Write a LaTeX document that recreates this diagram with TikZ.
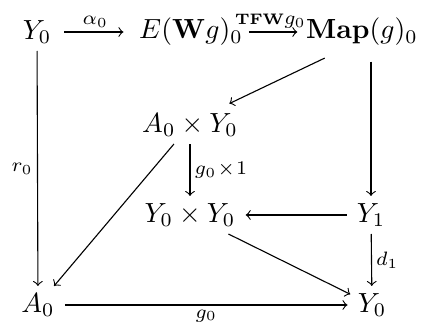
\documentclass[tikz,border=0pt]{standalone}
\usepackage{amsmath, amssymb}
\usepackage{tikz}

\begin{document}
\begin{tikzpicture}[x=0.0127cm, y=-0.0127cm, >=to, every node/.style={inner sep=2.5pt}, lbl/.style={font=\scriptsize, inner sep=1.5pt}]
  \useasboundingbox (0,0) rectangle (423,324);
  % objects
  \node (ytop) at (37,32) {$Y_0$};
  \node (ewg) at (191,32) {$E(\mathbf{W}g)_0$};
  \node (map) at (362,32) {$\mathbf{Map}(g)_0$};
  \node (axy) at (190,125) {$A_0 \times Y_0$};
  \node (yxy) at (190,215) {$Y_0 \times Y_0$};
  \node (yone) at (371,215) {$Y_1$};
  \node (azero) at (38,305) {$A_0$};
  \node (ybot) at (372,305) {$Y_0$};
  % top row
  \draw[->, shorten <=2pt, shorten >=3pt] (ytop) -- (ewg) node[midway, above, lbl] {$\alpha_0$};
  \draw[->, shorten <=-0.5pt, shorten >=0.5pt] (ewg) -- (map)
    node[midway, above, lbl, inner sep=1pt, xshift=-1.5pt] {$\text{\fontsize{5.5}{6}\selectfont\bfseries TFW}g_0$};
  % arrows
  \draw[->, shorten <=3pt] (map.south -| yone) -- (yone);
  \draw[->, shorten <=4pt, shorten >=2pt] (map.218) -- (axy.29);
  \draw[->] (axy) -- (yxy) node[midway, right, lbl] {$g_0\!\times\!1$};
  \draw[->, shorten <=1pt, shorten >=1pt] (yone) -- (yxy);
  \draw[->] (ytop) -- (azero) node[midway, left, lbl] {$r_0$};
  \draw[->] (axy) -- (azero);
  \draw[->] (yxy) -- (ybot);
  \draw[->] (yone) -- (ybot) node[midway, right, lbl] {$d_1$};
  \draw[->, shorten <=1pt, shorten >=1pt] (azero) -- (ybot) node[midway, below, lbl] {$g_0$};
\end{tikzpicture}
\end{document}
